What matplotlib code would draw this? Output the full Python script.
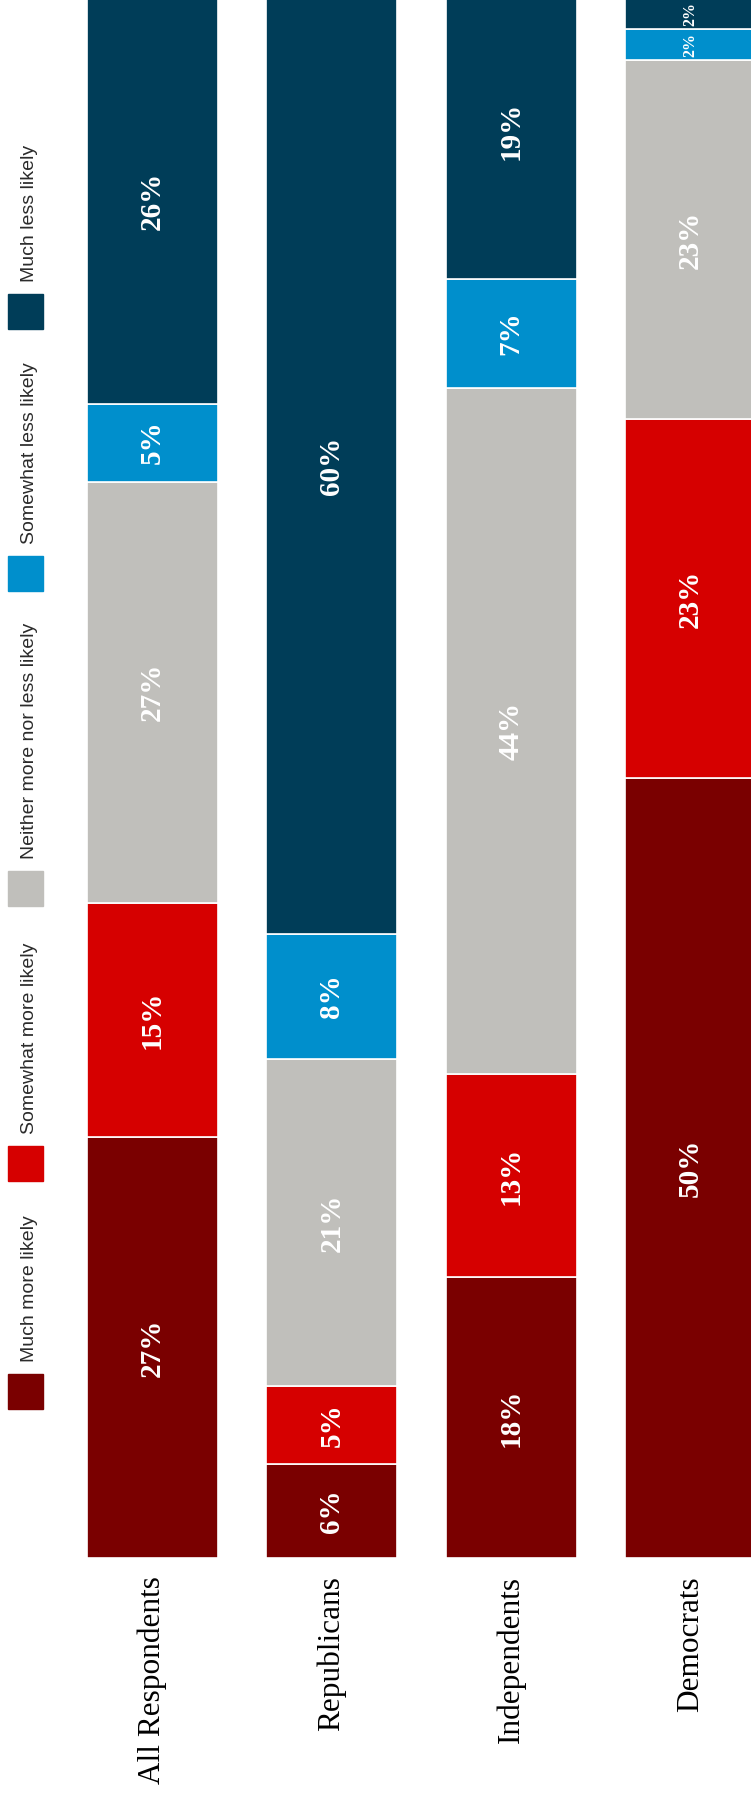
#! /usr/bin/env python3

"""
Stacked bars, drawn upright (the reference picture is turned on its side).
"""

import matplotlib
matplotlib.use("Agg")
import matplotlib.pyplot as plt
from matplotlib.patches import Rectangle
import numpy as np

categories = ["All Respondents", "Republicans", "Independents", "Democrats"]
responses = ["Much more likely", "Somewhat more likely",
             "Neither more nor less likely", "Somewhat less likely",
             "Much less likely"]
much_more = [27, 6, 18, 50]
somewhat_more = [15, 5, 13, 23]
neither = [27, 21, 44, 23]
somewhat_less = [5, 8, 7, 2]
much_less = [26, 60, 19, 2]
colors = ["#7a0000", "#d60000", "#c0bfbb", "#008fcc", "#003d58"]

series = [much_more, somewhat_more, neither, somewhat_less, much_less]

W, H = 751, 1793          # output size in px
BASE_Y = 1558             # bar foot, px from top
PITCH = 179.3             # px between bar centres
FIRST_X = 152.5           # centre of first bar, px
BAR_W = 131               # px
PX_PER_PCT = 15.6

fig = plt.figure(figsize=(W / 100, H / 100), dpi=100)
ax = fig.add_axes([0, 1 - BASE_Y / H, 1, BASE_Y / H])
ax.set_xlim(-FIRST_X / PITCH, (W - FIRST_X) / PITCH)
ax.set_ylim(0, BASE_Y / PX_PER_PCT)

x = np.arange(len(categories))
bottom = np.zeros(len(categories))
for vals, col in zip(series, colors):
    vals = np.array(vals, dtype=float)
    bars = ax.bar(x, vals, BAR_W / PITCH, bottom=bottom, color=col,
                  edgecolor="white", linewidth=1.2)
    for rect, v in zip(bars, vals):
        small = v < 4
        ax.text(rect.get_x() + rect.get_width() / 2,
                rect.get_y() + v / 2, f"{int(v)}%",
                rotation=90, ha="center", va="center", color="white",
                fontsize=11.5 if small else 21, fontweight="bold",
                family="Liberation Serif", clip_on=True)
    bottom += vals

ax.set_xticks(x, categories, rotation=90, fontsize=22.5,
              family="Liberation Serif", color="black")
ax.tick_params(axis="x", length=0, pad=13)
ax.set_yticks([])
for s in ax.spines.values():
    s.set_visible(False)

# legend, turned like the rest (square, then text reading upward)
square_bottoms = [1409, 1181, 906, 591, 329]
for name, col, sb in zip(responses, colors, square_bottoms):
    fig.patches.append(Rectangle((8 / W, 1 - sb / H), 35 / W, 35 / H,
                                 transform=fig.transFigure, color=col))
    fig.text(30 / W, 1 - (sb - 35 - 12) / H, name, rotation=90,
             ha="center", va="bottom", fontsize=14,
             family="Liberation Sans", color="#2b2b2b")

fig.savefig("out.png", dpi=100)
